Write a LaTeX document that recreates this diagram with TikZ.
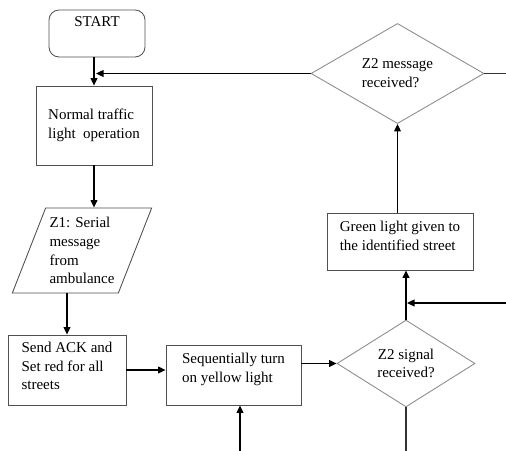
\documentclass[tikz,border=0pt]{standalone}
\usepackage{fontspec}
\setmainfont{Liberation Serif}
\usepackage{xcolor}
\definecolor{boxgray}{RGB}{80,80,80}
\definecolor{diagray}{RGB}{140,140,140}
\usetikzlibrary{arrows.meta,positioning,shapes.geometric,calc}

\tikzset{
  flowtext/.style={font=\fontsize{12}{15}\selectfont, text=black},
  procbox/.style={flowtext, draw=boxgray, line width=0.7pt, rectangle, align=left, inner sep=0pt},
  startbox/.style={procbox, rounded corners=8pt, align=center},
  iobox/.style={flowtext, draw=boxgray, line width=0.7pt, trapezium, trapezium left angle=66,
    trapezium right angle=114, trapezium stretches=true, align=left, inner sep=0pt},
  decision/.style={flowtext, draw=diagray, line width=0.7pt, diamond, inner sep=0pt},
  arr/.style={draw=black, line width=0.85pt, -{Triangle[length=6pt,width=5.5pt]}},
  plain/.style={draw=black!80, line width=0.85pt}
}

\begin{document}
\begin{tikzpicture}[x=0.8pt, y=-0.8pt]
  \useasboundingbox (0,0) rectangle (506,451);

  % Left column
  \node[startbox, minimum width=76.8pt, text height=13.6pt, text depth=24pt] (start) at (97,33.5) {START};
  \node[procbox, minimum width=92.8pt, minimum height=63.2pt] (normal) at (94,125.5) {Normal traffic\\light\ \ operation};
  \node[iobox, minimum width=112pt, minimum height=68pt] (serial) at (82,250.5) {Z1: Serial\\message\\from\\ambulance};
  \node[procbox, minimum width=94.4pt, minimum height=56pt, text depth=6.4pt] (ack) at (67,370) {Send ACK and\\Set red for all\\streets};

  % Bottom row
  \node[procbox, minimum width=108pt, minimum height=48pt, text depth=12pt] (yellow) at (233.5,375) {Sequentially turn\\on yellow light};
  \node[decision, minimum width=110.4pt, minimum height=66.4pt, align=center] (signal) at (406,363.5) {Z2 signal\\received?};

  % Right column
  \node[procbox, minimum width=116.8pt, minimum height=45.6pt, text depth=9pt] (green) at (400,241.5) {Green light given to\\the identified street};
  \node[decision, minimum width=138.4pt, minimum height=74.4pt, align=left] (message) at (397.5,73.5) {Z2 message\\received?};

  % Free ends
  \coordinate (ybot) at (240,451);
  \coordinate (sout) at (406,451);
  \coordinate (rin) at (506,303);
  \coordinate (mout) at (506,73.5);

  % Connectors
  \draw[arr] (normal.north |- start.south) -- (normal.north);
  \draw[arr] (message.west) -- ($(normal.north |- message.west)+(2,0)$);
  \draw[arr] (normal.south) -- (normal.south |- serial.north);
  \draw[arr] (ack.north |- serial.south) -- (ack.north);
  \draw[arr] (ack.east) -- (yellow.west |- ack.east);
  \draw[arr] (ybot) -- (ybot |- yellow.south);
  \draw[arr] (signal.west -| yellow.east) -- (signal.west);
  \draw[arr] (signal.north) -- (signal.north |- green.south);
  \draw[arr] (rin) -- ($(signal.north |- rin)+(1,0)$);
  \draw[plain] (signal.south) -- (sout);
  \draw[arr] (green.north -| message.south) -- (message.south);
  \draw[plain] (message.east) -- (mout);
\end{tikzpicture}
\end{document}
